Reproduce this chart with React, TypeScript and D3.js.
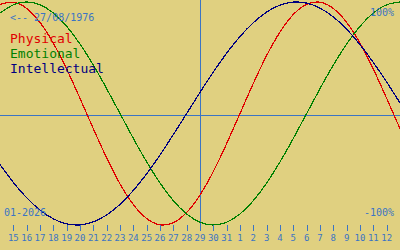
import React from "react";
import * as d3 from "d3";

// Tick labels (days shown on the axis): 15 Jan .. 12 Feb
const dayLabels = [
  "15", "16", "17", "18", "19", "20", "21", "22", "23", "24", "25", "26", "27", "28", "29", "30", "31",
  "1", "2", "3", "4", "5", "6", "7", "8", "9", "10", "11", "12",
];
// Curve samples from 14 Jan (index -1) to 13 Feb (index 29), in percent
const physical = [
  97.9, 99.8, 94.2, 81.7, 63.1, 39.8, 13.6, -13.6, -39.8, -63.1, -81.7, -94.2, -99.8, -97.9, -88.8,
  -73.1, -52.0, -27.0, 0, 27.0, 52.0, 73.1, 88.8, 97.9, 99.8, 94.2, 81.7, 63.1, 39.8, 13.6, -13.6,
];
const emotional = [
  90.1, 97.5, 100, 97.5, 90.1, 78.2, 62.3, 43.4, 22.3, 0, -22.3, -43.4, -62.3, -78.2, -90.1,
  -97.5, -100, -97.5, -90.1, -78.2, -62.3, -43.4, -22.3, 0, 22.3, 43.4, 62.3, 78.2, 90.1, 97.5, 100,
];
const intellectual = [
  -45.8, -61.8, -75.6, -86.6, -94.5, -99.0, -99.9, -97.2, -91.0, -81.5, -69.0, -54.1, -37.2, -18.9, 0,
  18.9, 37.2, 54.1, 69.0, 81.5, 91.0, 97.2, 99.9, 99.0, 94.5, 86.6, 75.6, 61.8, 45.8, 28.2, 9.5,
];
const seriesNames = ["Physical", "Emotional", "Intellectual"];
const seriesColors = ["#e00000", "#008000", "#000080"];
const birthLabel = "<-- 27/08/1976";
const monthLabel = "01-2026";
const todayIndex = 14;

const W = 400;
const H = 250;
const BLUE = "#3b74c4";
const BG = "#e0d080";
const MONO = "'DejaVu Sans Mono', monospace";

export default function App() {
  const x = d3.scaleLinear().domain([-1, 29]).range([0, W]);
  const y = d3.scaleLinear().domain([-100, 100]).range([225, 2]);
  const series = [physical, emotional, intellectual];
  const line = d3
    .line<number>()
    .x((_, i) => x(i - 1))
    .y((d) => y(d))
    .curve(d3.curveNatural);

  return (
    <svg
      width={W}
      height={H}
      style={{ position: "absolute", left: 0, top: 0, display: "block" }}
    >
      <rect x={0} y={0} width={W} height={H} fill={BG} />
      <line x1={0} x2={W} y1={115.5} y2={115.5} stroke={BLUE} strokeWidth={1} />
      <line
        x1={Math.round(x(todayIndex)) + 0.5}
        x2={Math.round(x(todayIndex)) + 0.5}
        y1={0}
        y2={231}
        stroke={BLUE}
        strokeWidth={1}
      />
      {series.map((s, k) => (
        <path
          key={k}
          d={line(s) || ""}
          fill="none"
          stroke={seriesColors[k]}
          strokeWidth={1.2}
          shapeRendering="crispEdges"
        />
      ))}
      {dayLabels.map((lab, i) => (
        <g key={i}>
          <line
            x1={Math.round(x(i)) + 0.5}
            x2={Math.round(x(i)) + 0.5}
            y1={225}
            y2={231}
            stroke={BLUE}
            strokeWidth={1}
          />
          <text
            x={x(i)}
            y={241}
            textAnchor="middle"
            fontFamily={MONO}
            fontSize={9}
            fill={BLUE}
          >
            {lab}
          </text>
        </g>
      ))}
      <text x={10} y={20.5} fontFamily={MONO} fontSize={10} fill={BLUE}>
        {birthLabel}
      </text>
      {seriesNames.map((n, k) => (
        <text key={n} x={10} y={43 + k * 15} fontFamily={MONO} fontSize={13} fill={seriesColors[k]}>
          {n}
        </text>
      ))}
      <text x={394} y={16} textAnchor="end" fontFamily={MONO} fontSize={10} fill={BLUE}>
        100%
      </text>
      <text x={394} y={216} textAnchor="end" fontFamily={MONO} fontSize={10} fill={BLUE}>
        -100%
      </text>
      <text x={4} y={216} fontFamily={MONO} fontSize={10} fill={BLUE}>
        {monthLabel}
      </text>
    </svg>
  );
}
